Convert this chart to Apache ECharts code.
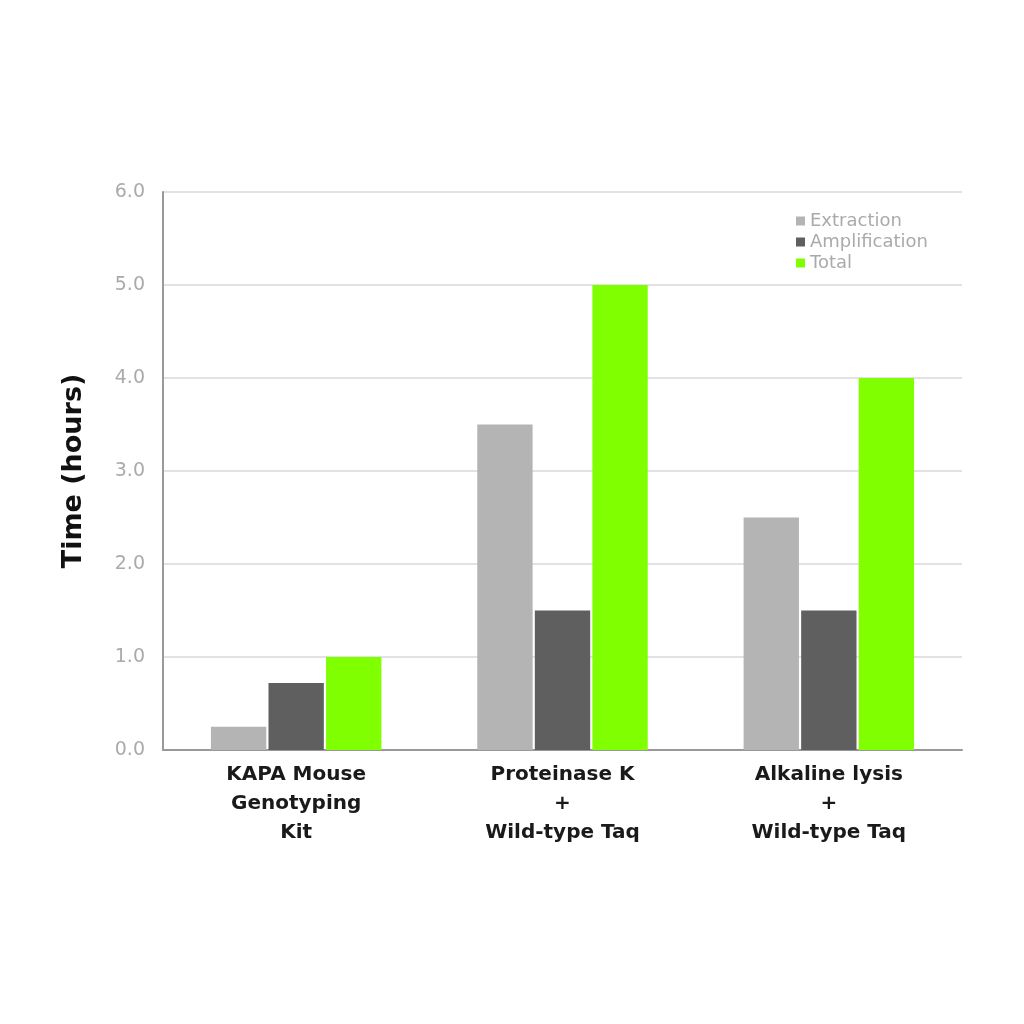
<!DOCTYPE html>
<html><head><meta charset="utf-8">
<script src="https://cdn.jsdelivr.net/npm/echarts@6/dist/echarts.min.js"></script>
<style>html,body{margin:0;padding:0;background:#fff}#c{width:1024px;height:1024px}</style>
</head><body><div id="c"></div>
<script>
const categories = ["KAPA Mouse\nGenotyping\nKit", "Proteinase K\n+\nWild-type Taq", "Alkaline lysis\n+\nWild-type Taq"];
const seriesNames = ["Extraction", "Amplification", "Total"];
const extraction = [0.25, 3.5, 2.5];
const amplification = [0.72, 1.5, 1.5];
const total = [1.0, 5.0, 4.0];
const colors = ["#b4b4b4", "#5f5f5f", "#80ff00"];
const values = [extraction, amplification, total];

const chart = echarts.init(document.getElementById('c'));
chart.setOption({
  animation: false,
  grid: {left: 163, right: 62, top: 192, bottom: 274},
  legend: {
    orient: 'vertical', left: 791, top: 207, itemWidth: 9, itemHeight: 9, itemGap: 3,
    textStyle: {color: '#aaa', fontSize: 18, lineHeight: 18, fontFamily: 'DejaVu Sans'},
    data: seriesNames.map((n, i) => ({name: n, icon: 'rect'}))
  },
  xAxis: {
    type: 'category', data: categories,
    axisLine: {lineStyle: {color: '#999', width: 2}},
    axisTick: {show: false},
    axisLabel: {color: '#1a1a1a', fontWeight: 'bold', fontSize: 20, lineHeight: 29, margin: 10, fontFamily: 'DejaVu Sans'}
  },
  yAxis: {
    type: 'value', min: 0, max: 6, interval: 1,
    name: 'Time (hours)', nameLocation: 'middle', nameGap: 76,
    nameTextStyle: {color: '#111', fontWeight: 'bold', fontSize: 27, fontFamily: 'DejaVu Sans'},
    axisLine: {show: true, lineStyle: {color: '#999', width: 2}},
    axisLabel: {color: '#aaa', fontSize: 19, margin: 18, formatter: v => v.toFixed(1), fontFamily: 'DejaVu Sans'},
    splitLine: {lineStyle: {color: '#e2e2e2', width: 2}}
  },
  series: values.map((d, i) => ({
    name: seriesNames[i], type: 'bar', data: d, barGap: '4%', barCategoryGap: '36%',
    itemStyle: {color: colors[i]}
  }))
});
</script></body></html>
